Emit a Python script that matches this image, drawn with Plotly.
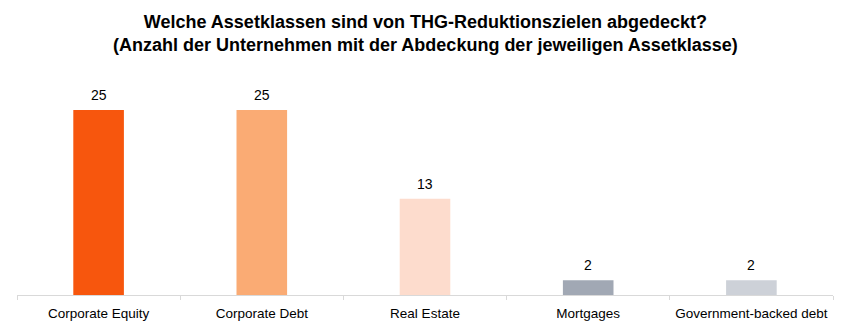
import plotly.graph_objects as go

categories = ["Corporate Equity", "Corporate Debt", "Real Estate", "Mortgages", "Government-backed debt"]
values = [25, 25, 13, 2, 2]
colors = ["#F7560D", "#FAAB74", "#FDDCCD", "#A1A8B4", "#CDD1D8"]
title_lines = ["Welche Assetklassen sind von THG-Reduktionszielen abgedeckt?",
               "(Anzahl der Unternehmen mit der Abdeckung der jeweiligen Assetklasse)"]

FONT = "Liberation Sans, Arial, sans-serif"

fig = go.Figure(go.Bar(
    x=categories, y=values,
    marker=dict(color=colors, line=dict(width=0)),
    width=0.31,
    hoverinfo="x+y",
))

for c, v in zip(categories, values):
    fig.add_annotation(x=c, y=v, xref="x", yref="y", text=str(v), showarrow=False,
                       yanchor="bottom", yshift=5,
                       font=dict(family=FONT, size=14, color="#000000"))

fig.add_annotation(x=0.5, xref="paper", y=1 + (88 - 10) / 207, yref="paper",
                   xanchor="center", yanchor="top", showarrow=False,
                   text="<b>" + "<br>".join(title_lines) + "</b>",
                   font=dict(family=FONT, size=18, color="#000000"))

fig.update_layout(
    width=850, height=330,
    margin=dict(l=17, r=17, t=88, b=35),
    paper_bgcolor="white", plot_bgcolor="white",
    font=dict(family=FONT, size=13.5, color="#000000"),
    showlegend=False,
    xaxis=dict(showline=True, linecolor="#D9D9D9", linewidth=1, automargin=False,
               ticks="outside", tickson="boundaries", ticklen=4, tickcolor="#D9D9D9",
               showgrid=False, tickfont=dict(size=13.5), ticklabelstandoff=6),
    yaxis=dict(visible=False, range=[0, 25 * 207 / 185], showgrid=False,
               zeroline=False, automargin=False),
)

fig.write_html("out.html")
